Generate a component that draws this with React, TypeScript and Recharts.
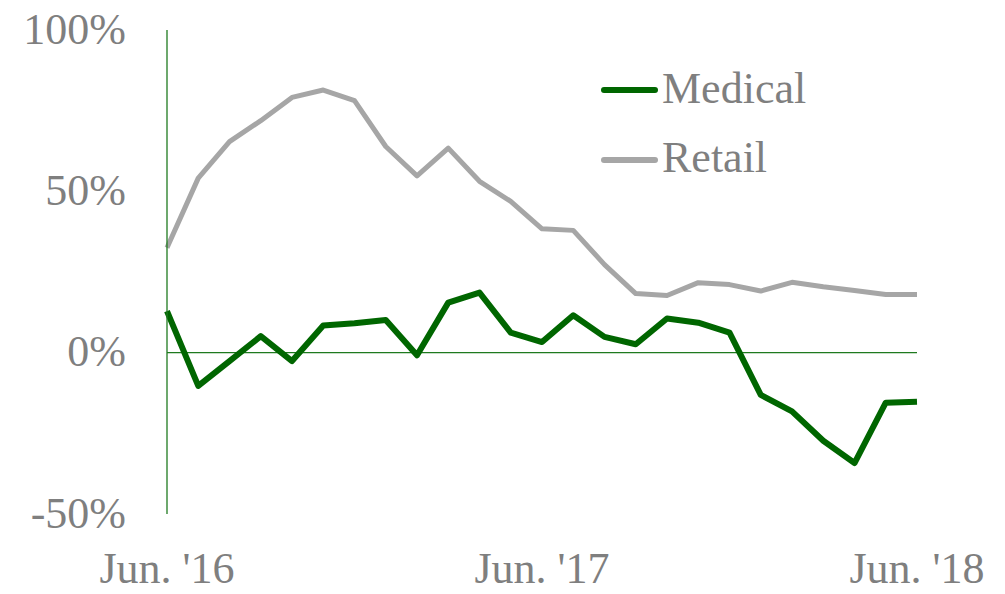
import React from 'react';
import { LineChart, Line, XAxis, YAxis, ReferenceLine } from 'recharts';

const months = [
  "Jun. '16", "Jul. '16", "Aug. '16", "Sep. '16", "Oct. '16", "Nov. '16", "Dec. '16",
  "Jan. '17", "Feb. '17", "Mar. '17", "Apr. '17", "May. '17", "Jun. '17", "Jul. '17",
  "Aug. '17", "Sep. '17", "Oct. '17", "Nov. '17", "Dec. '17", "Jan. '18", "Feb. '18",
  "Mar. '18", "Apr. '18", "May. '18", "Jun. '18",
];

const medical = [
  12.9, -10.3, -2.6, 5.1, -2.6, 8.4, 9.1, 10.1, -0.8, 15.5, 18.6, 6.2, 3.3,
  11.6, 4.9, 2.6, 10.6, 9.3, 6.2, -13.1, -18.2, -27.3, -34.2, -15.5, -15.2,
];

const retail = [
  32.5, 54.1, 65.4, 71.9, 79.1, 81.4, 78.1, 63.9, 54.8, 63.4, 53.1, 46.9, 38.4,
  37.9, 27.3, 18.3, 17.7, 21.7, 21.1, 19.1, 21.8, 20.4, 19.3, 18.0, 18.0,
];

const xTicks = ["Jun. '16", "Jun. '17", "Jun. '18"];
const yTicks = [-50, 0, 50, 100];

const data = months.map((m, i) => ({ month: m, Medical: medical[i], Retail: retail[i] }));

const FONT = '"Liberation Serif", "Times New Roman", serif';
const TEXT = '#7f7f7f';
const GREEN = '#006600';
const AXIS_GREEN = '#1f7a1f';
const GRAY = '#a6a6a6';

const xTickStyle = { fill: TEXT, fontSize: 44, fontFamily: FONT };
const yTickStyle = { fill: TEXT, fontSize: 44, fontFamily: FONT, dy: -2 };

export default function App() {
  return (
    <div style={{ position: 'relative', width: 989, height: 586, marginTop: -8 }}>
      <LineChart
        width={989}
        height={594}
        data={data}
        margin={{ top: 30, right: 80, bottom: 20, left: 8 }}
        style={{ overflow: 'visible' }}
      >
        <XAxis
          dataKey="month"
          ticks={xTicks}
          interval={0}
          axisLine={false}
          tickLine={false}
          tickSize={0}
          tickMargin={38}
          height={60}
          tick={xTickStyle}
        />
        <YAxis
          domain={[-50, 100]}
          ticks={yTicks}
          tickFormatter={(v) => `${v}%`}
          axisLine={{ stroke: AXIS_GREEN, strokeWidth: 1.3 }}
          tickLine={false}
          tickSize={0}
          tickMargin={41}
          width={151}
          tick={yTickStyle}
        />
        <ReferenceLine y={0} stroke={AXIS_GREEN} strokeWidth={1.3} />
        <Line
          type="linear"
          dataKey="Retail"
          stroke={GRAY}
          strokeWidth={5}
          dot={false}
          strokeLinejoin="round"
          isAnimationActive={false}
        />
        <Line
          type="linear"
          dataKey="Medical"
          stroke={GREEN}
          strokeWidth={6}
          dot={false}
          strokeLinejoin="round"
          isAnimationActive={false}
        />
      </LineChart>
      <svg
        width={240}
        height={130}
        style={{ position: 'absolute', left: 590, top: 58 }}
      >
        <line x1={6} y1={32} x2={57} y2={32} stroke={GREEN} strokeWidth={6} strokeLinecap="round" />
        <text x={64} y={45} fill={TEXT} fontSize={44} fontFamily={FONT}>Medical</text>
        <line x1={6} y1={102} x2={57} y2={102} stroke={GRAY} strokeWidth={6} strokeLinecap="round" />
        <text x={64} y={114} fill={TEXT} fontSize={44} fontFamily={FONT}>Retail</text>
      </svg>
    </div>
  );
}
